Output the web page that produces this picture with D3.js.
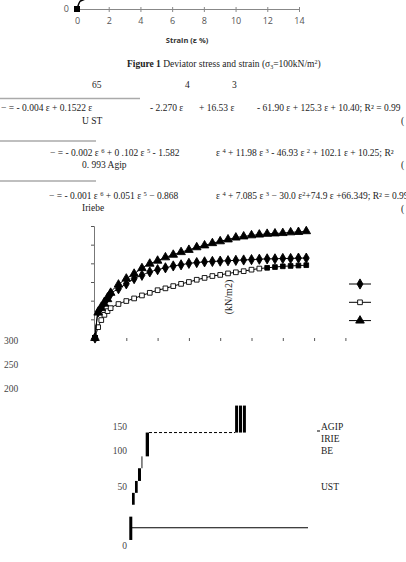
<!DOCTYPE html>
<html>
<head>
<meta charset="utf-8">
<script src="https://cdn.jsdelivr.net/npm/d3@7"></script>
<style>
body { margin: 0; background: #fff; }
text { font-family: "Liberation Serif", serif; fill: #222; }
</style>
</head>
<body>
<div id="chart"></div>
<script>
// strain (%) and deviator stress (kN/m2) for the three soils
var strain = [0, 0.2, 0.4, 0.6, 0.8, 1.0, 1.5, 2, 2.5, 3, 3.5, 4, 4.5, 5, 5.5, 6, 6.5, 7, 7.5, 8, 8.5, 9, 9.5, 10, 10.5, 11, 11.5, 12, 12.5, 13, 13.5];
var ustStress = [0, 70, 83, 96, 108, 118, 132, 145, 159, 168, 177, 183, 188, 193, 196, 200, 202, 204, 205, 206, 207, 208, 209, 210, 211, 212, 212, 213, 213, 214, 214];
var agipStress = [0, 29, 48, 62, 72, 80, 91, 99, 106, 114, 121, 128, 133, 139, 145, 150, 156, 161, 166, 169, 173, 176, 179, 183, 186, 188, 190, 192, 193, 194, 195];
var iriebeStress = [0, 68, 80, 92, 104, 121, 143, 159, 172, 187, 199, 207, 216, 223, 230, 236, 243, 248, 254, 259, 264, 269, 272, 275, 277, 279, 280, 281, 283, 284, 286];

var topTicks = [0, 2, 4, 6, 8, 10, 12, 14];
var stressTicks = [0, 50, 100, 150, 200, 250, 300];
var strainTicks = [2, 4, 6, 8, 10, 12, 14, 16];
var sideLabels = ["300", "250", "200"];
var lowLabels = ["150", "100", "50", "0"];
var legendNames = ["AGIP", "IRIE", "BE", "UST"];

// the broken bar pieces at the bottom (index units, stress units)
var barX = [0.43, 1.33, 2.33, 3.33, 4.5, 5.9, 35.7, 37.0, 38.3];
var barW = [1.0, 0.9, 0.9, 1.0, 0.3, 1.1, 1.0, 1.0, 1.0];
var barLo = [7.6, 52, 67, 82, 98, 113, 143, 143, 143];
var barHi = [37, 67, 82, 98, 113, 143, 177, 177, 177];

var w = 406, h = 562;

var svg = d3.select("#chart")
            .append("svg")
            .attr("width", w)
            .attr("height", h);

// ---------- top fragment of figure 1 ----------
var xTop = d3.scaleLinear().domain([0, 14]).range([77, 299]);
var yTop = d3.scaleLinear().domain([0, 300]).range([9, -24]);

var topAxis = svg.append("g")
    .attr("transform", "translate(0,9)")
    .call(d3.axisBottom(xTop).tickValues(topTicks).tickSize(3));
topAxis.select(".domain").attr("stroke", "#888");
topAxis.selectAll(".tick line").attr("stroke", "#888").attr("y1", -2);
topAxis.selectAll(".tick text")
    .attr("y", 9)
    .style("font-family", "'Open Sans', sans-serif")
    .style("font-size", "9px")
    .style("fill", "#555");

svg.append("text").attr("x", 69).attr("y", 12)
   .attr("text-anchor", "end")
   .style("font-family", "'Open Sans', sans-serif")
   .style("font-size", "9px").style("fill", "#555").text("0");

svg.append("path")
   .datum(d3.range(0, 4))
   .attr("fill", "none")
   .attr("stroke", "#000")
   .attr("stroke-width", 1.5)
   .attr("d", d3.line()
       .x(function(i) { return xTop(strain[i]); })
       .y(function(i) { return yTop(ustStress[i]); })
       .curve(d3.curveMonotoneX));
svg.append("rect")
   .attr("x", xTop(0) - 3).attr("y", yTop(0) - 3)
   .attr("width", 6).attr("height", 6).attr("fill", "#000");

svg.append("text").attr("x", 187).attr("y", 43)
   .attr("text-anchor", "middle")
   .style("font-family", "'Open Sans', sans-serif")
   .style("font-weight", "bold")
   .style("font-size", "7.5px").style("fill", "#333")
   .text("Strain (\u03b5 %)");

var cap = svg.append("text").attr("x", 127).attr("y", 67).style("font-size", "9.5px");
cap.append("tspan").style("font-weight", "bold").text("Figure 1");
cap.append("tspan").text(" Deviator stress and strain (\u03c3");
cap.append("tspan").attr("dy", 2).style("font-size", "6px").text("3");
cap.append("tspan").attr("dy", -2).text("=100kN/m");
cap.append("tspan").attr("dy", -3).style("font-size", "6px").text("2");
cap.append("tspan").attr("dy", 3).text(")");

// ---------- regression equations ----------
function eq(x, y, parts) {
    var t = svg.append("text").attr("x", x).attr("y", y).style("font-size", "9.5px");
    var back = 0;
    parts.forEach(function(p) {
        if (typeof p === "string") {
            t.append("tspan").attr("dy", back).text(p);
            back = 0;
        } else {
            t.append("tspan").attr("dy", -3).style("font-size", "6.5px").text(p[0]);
            back = 3;
        }
    });
    return t;
}

eq(92, 88, ["65"]);
eq(185, 88, ["4"]);
eq(232, 88, ["3"]);
svg.append("line").attr("x1", 0).attr("x2", 140).attr("y1", 98.5).attr("y2", 98.5)
   .attr("stroke", "#aaa").attr("stroke-width", 1.5);
eq(1, 111, ["\u2212  = - 0.004 \u03b5 + 0.1522 \u03b5"]);
eq(150, 111, ["- 2.270 \u03b5"]);
eq(199, 111, ["+ 16.53 \u03b5"]);
eq(257, 111, ["- 61.90 \u03b5 + 125.3 \u03b5 + 10.40; R\u00b2 = 0.99"]);
eq(82, 124, ["U ST"]);
eq(401, 124, ["("]);

svg.append("line").attr("x1", 0).attr("x2", 96).attr("y1", 141).attr("y2", 141)
   .attr("stroke", "#aaa").attr("stroke-width", 1.5);
eq(50, 156, ["\u2212  = - 0.002 \u03b5 ", ["6"], " + 0 .102 \u03b5 ", ["5"], " - 1.582"]);
eq(216, 156, ["\u03b5 ", ["4"], " + 11.98 \u03b5 ", ["3"], " - 46.93 \u03b5 ", ["2"], " + 102.1 \u03b5 + 10.25;  R\u00b2"]);
eq(82, 168, ["0. 993 Agip"]);
eq(401, 168, ["("]);

svg.append("line").attr("x1", 0).attr("x2", 96).attr("y1", 181).attr("y2", 181)
   .attr("stroke", "#aaa").attr("stroke-width", 1.5);
eq(49, 199, ["\u2212  = - 0.001 \u03b5 ", ["6"], " + 0.051 \u03b5 ", ["5"], " \u2212 0.868"]);
eq(216, 199, ["\u03b5 ", ["4"], " + 7.085 \u03b5 ", ["3"], " \u2212 30.0 \u03b5", ["2"], "+74.9 \u03b5 +66.349; R\u00b2 = 0.99"]);
eq(82, 211, ["Iriebe"]);
eq(401, 212, ["("]);

// ---------- stress-strain chart ----------
var xScale = d3.scaleLinear().domain([0, 16]).range([95, 345.4]);
var yScale = d3.scaleLinear().domain([0, 300]).range([338, 226]);

var yAxis = svg.append("g")
    .attr("transform", "translate(94,0)")
    .call(d3.axisLeft(yScale).tickValues(stressTicks).tickSize(3).tickFormat(""));
yAxis.select(".domain").attr("stroke", "#777");
yAxis.selectAll(".tick line").attr("stroke", "#555");

var xAxis = svg.append("g")
    .attr("transform", "translate(0,338)")
    .call(d3.axisBottom(xScale).tickValues(strainTicks).tickSize(3).tickFormat(""));
xAxis.select(".domain").remove();
xAxis.selectAll(".tick line").attr("stroke", "#555");

var line = d3.line()
    .x(function(d) { return xScale(d[0]); })
    .y(function(d) { return yScale(d[1]); })
    .curve(d3.curveMonotoneX);

function pairs(vals) {
    return strain.map(function(s, i) { return [s, vals[i]]; });
}

var series = [
    { vals: agipStress, marker: "square" },
    { vals: ustStress, marker: "diamond" },
    { vals: iriebeStress, marker: "triangle" }
];

var symbolFor = {
    diamond: d3.symbol().type(d3.symbolDiamond).size(30),
    triangle: d3.symbol().type(d3.symbolTriangle).size(32),
    square: d3.symbol().type(d3.symbolSquare).size(22)
};

series.forEach(function(s) {
    var pts = pairs(s.vals);
    svg.append("path")
       .datum(pts)
       .attr("fill", "none")
       .attr("stroke", "#000")
       .attr("stroke-width", 1)
       .attr("d", line);

    svg.append("g").selectAll("path")
       .data(pts)
       .enter()
       .append("path")
       .attr("transform", function(d) {
            return "translate(" + xScale(d[0]) + "," + yScale(d[1]) + ")";
       })
       .attr("d", symbolFor[s.marker])
       .attr("fill", function(d) {
            if (s.marker !== "square") return "#000";
            return (d[0] === 0 || d[0] >= 11) ? "#000" : "#fff";
       })
       .attr("stroke", "#000")
       .attr("stroke-width", 0.9);
});

// big origin marker
svg.append("rect")
   .attr("x", xScale(0) - 3).attr("y", yScale(0) - 3)
   .attr("width", 6).attr("height", 6).attr("fill", "#000");

svg.append("text")
   .attr("transform", "translate(232,297) rotate(-90)")
   .attr("text-anchor", "middle")
   .style("font-size", "10px")
   .text("(kN/m2)");

// legend (symbols only, names lost)
var legendMarkers = ["diamond", "square", "triangle"];
var legend = svg.append("g").selectAll("g")
    .data(legendMarkers)
    .enter()
    .append("g")
    .attr("transform", function(d, i) { return "translate(360," + (284 + i * 18.3) + ")"; });
legend.append("line").attr("x1", -11).attr("x2", 11).attr("stroke", "#000");
legend.append("path")
    .attr("d", function(d) { return symbolFor[d](); })
    .attr("fill", function(d) { return d === "square" ? "#fff" : "#000"; })
    .attr("stroke", "#000").attr("stroke-width", 0.9);

// ---------- stray axis labels ----------
svg.append("g").selectAll("text")
   .data(sideLabels)
   .enter()
   .append("text")
   .attr("x", 4)
   .attr("y", function(d, i) { return [344, 368, 392][i]; })
   .style("font-size", "9.5px").style("fill", "#444")
   .text(function(d) { return d; });

svg.append("g").selectAll("text")
   .data(lowLabels)
   .enter()
   .append("text")
   .attr("x", 127)
   .attr("y", function(d, i) { return [430, 454, 490, 549][i]; })
   .attr("text-anchor", "end")
   .style("font-size", "9.5px").style("fill", "#444")
   .text(function(d) { return d; });

// ---------- broken bars ----------
var bx = d3.scaleLinear().domain([0, 60]).range([128, 308]);
var by = d3.scaleLinear().domain([0, 150]).range([546, 427]);

svg.append("g").selectAll("rect")
   .data(barX)
   .enter()
   .append("rect")
   .attr("x", function(d) { return bx(d); })
   .attr("width", function(d, i) { return bx(barW[i]) - bx(0); })
   .attr("y", function(d, i) { return by(barHi[i]); })
   .attr("height", function(d, i) { return by(barLo[i]) - by(barHi[i]); })
   .attr("fill", "#000");

svg.append("line")
   .attr("x1", bx(1.33)).attr("x2", bx(60))
   .attr("y1", by(23)).attr("y2", by(23))
   .attr("stroke", "#000").attr("stroke-width", 1);
svg.append("line")
   .attr("x1", bx(7)).attr("x2", bx(35.7))
   .attr("y1", by(143)).attr("y2", by(143))
   .attr("stroke", "#000").attr("stroke-width", 1)
   .attr("stroke-dasharray", "3,2");

svg.append("line").attr("x1", 317).attr("x2", 320).attr("y1", 431).attr("y2", 431)
   .attr("stroke", "#000");
svg.append("g").selectAll("text")
   .data(legendNames)
   .enter()
   .append("text")
   .attr("x", 321)
   .attr("y", function(d, i) { return [430, 442, 454, 490][i]; })
   .style("font-size", "9.5px")
   .text(function(d) { return d; });
</script>
</body>
</html>
